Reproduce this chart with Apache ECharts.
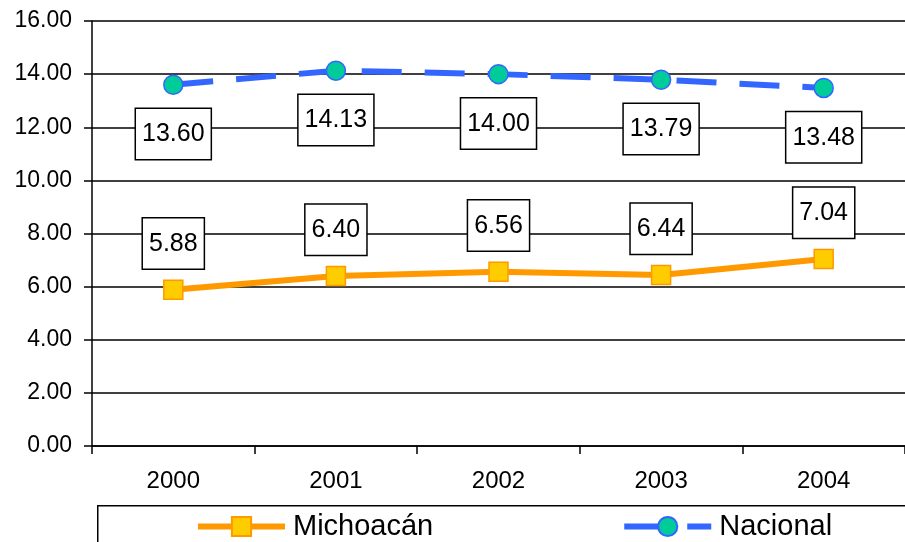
<!DOCTYPE html>
<html>
<head>
<meta charset="utf-8">
<script src="https://cdn.jsdelivr.net/npm/echarts@6/dist/echarts.min.js"></script>
<style>html,body{margin:0;padding:0;background:#fff;}#c{width:905px;height:542px;}</style>
</head>
<body>
<div id="c"></div>
<script>
var years = ['2000', '2001', '2002', '2003', '2004'];
var michoacan = [5.88, 6.40, 6.56, 6.44, 7.04];
var nacional = [13.60, 14.13, 14.00, 13.79, 13.48];
var yTicks = { min: 0, max: 16, interval: 2 };

var FONT = '"Liberation Sans", Arial, sans-serif';
var chart = echarts.init(document.getElementById('c'), null, { renderer: 'canvas' });

function boxLabel(pos, dist) {
  return {
    show: true,
    position: pos,
    distance: dist,
    formatter: function (p) { return p.value.toFixed(2); },
    fontFamily: FONT,
    fontSize: 25,
    color: '#000',
    backgroundColor: '#fff',
    borderColor: '#000',
    borderWidth: 1.5,
    padding: [13, 6, 12, 6],
    lineHeight: 25
  };
}

chart.setOption({
  animation: false,
  backgroundColor: '#fff',
  grid: { left: 92, top: 21, width: 820, height: 425, containLabel: false },
  graphic: [{
    type: 'rect',
    left: 97,
    top: 505,
    shape: { width: 900, height: 60 },
    style: { fill: '#fff', stroke: '#000', lineWidth: 1.5 },
    z: 0
  }],
  xAxis: {
    type: 'category',
    data: years,
    boundaryGap: true,
    axisLine: { show: true, lineStyle: { color: '#000', width: 1.5 } },
    axisTick: { show: true, length: 8, lineStyle: { color: '#000', width: 1.5 } },
    axisLabel: { fontFamily: FONT, fontSize: 24, color: '#000', margin: 23 },
    splitLine: { show: false }
  },
  yAxis: {
    type: 'value',
    min: yTicks.min,
    max: yTicks.max,
    interval: yTicks.interval,
    axisLine: { show: true, lineStyle: { color: '#000', width: 1.5 } },
    axisTick: { show: true, length: 8, lineStyle: { color: '#000', width: 1.5 } },
    axisLabel: {
      fontFamily: FONT, fontSize: 23, color: '#000', margin: 20,
      formatter: function (v) { return v.toFixed(2); }
    },
    splitLine: { show: true, lineStyle: { color: '#000', width: 1.5 } }
  },
  legend: {
    left: 195,
    top: 512,
    orient: 'horizontal',
    padding: 0,
    itemGap: 188,
    itemWidth: 87,
    itemHeight: 24,
    lineStyle: { width: 6 },
    textStyle: { fontFamily: FONT, fontSize: 29, color: '#000', padding: [0, 0, 0, 3] },
    data: ['Michoacán', 'Nacional'],
    z: 5
  },
  series: [
    {
      name: 'Michoacán',
      type: 'line',
      data: michoacan,
      symbol: 'rect',
      symbolSize: 19,
      lineStyle: { color: '#FF9900', width: 6 },
      itemStyle: { color: '#FFCC00', borderColor: '#FF9900', borderWidth: 1.5 },
      label: boxLabel('top', 11),
      z: 3
    },
    {
      name: 'Nacional',
      type: 'line',
      data: nacional,
      symbol: 'circle',
      symbolSize: 19,
      lineStyle: { color: '#3366FF', width: 6, type: [40, 23] },
      itemStyle: { color: '#00CC99', borderColor: '#3366FF', borderWidth: 1.5 },
      label: boxLabel('bottom', 14),
      z: 3
    }
  ]
});
</script>
</body>
</html>
